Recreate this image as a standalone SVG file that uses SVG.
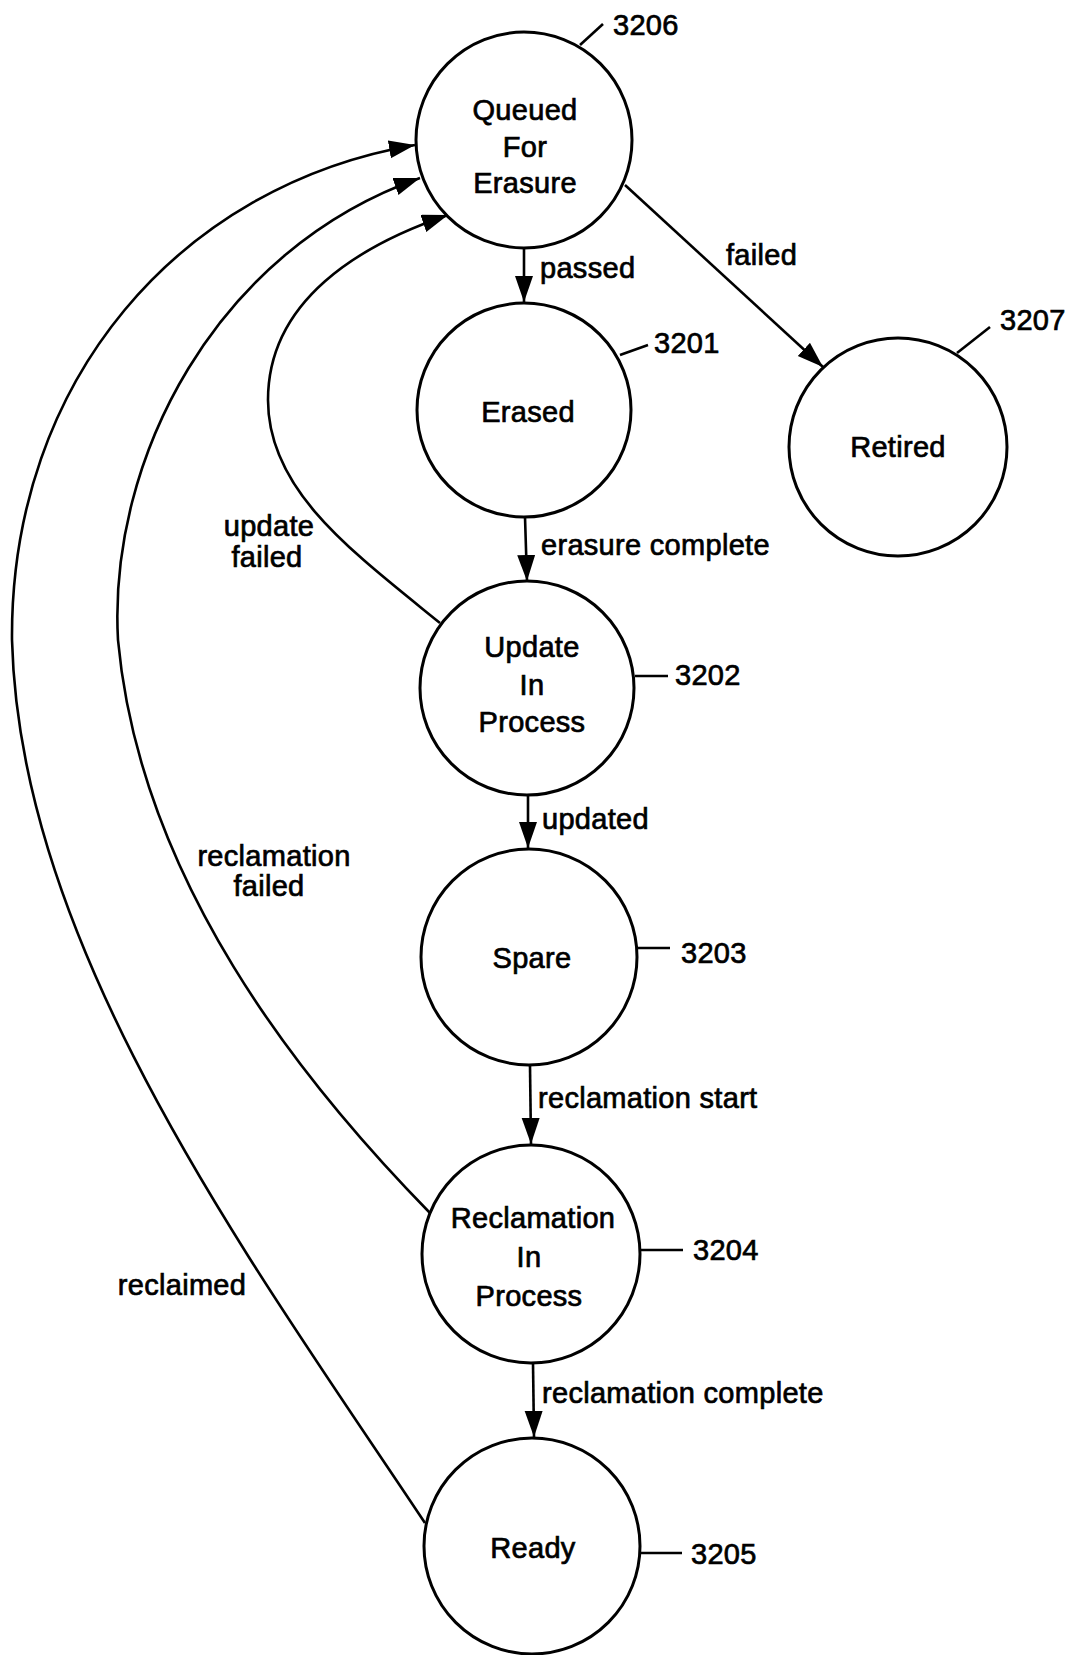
<svg xmlns="http://www.w3.org/2000/svg" width="1070" height="1655" viewBox="0 0 1070 1655">
<style>
.node circle{fill:#fff;stroke:#000;stroke-width:3}
text{font-family:"Liberation Sans",Arial,Helvetica,sans-serif;font-size:29px;fill:#000;stroke:#000;stroke-width:0.7;letter-spacing:0.3px}
.c{text-anchor:middle}
.edge{fill:none;stroke:#000;stroke-width:2.6}
.lead{stroke:#000;stroke-width:2.6}
</style>
<defs>
<marker id="arr" markerUnits="userSpaceOnUse" markerWidth="28" markerHeight="20" refX="26" refY="9" orient="auto">
<path d="M0,0 L26,9 L0,18 z" fill="#000"/>
</marker>
</defs>
<rect width="1070" height="1655" fill="#fff"/>
<g id="connectors">
<path class="edge" d="M524,249 L524,302" marker-end="url(#arr)"/>
<path class="edge" d="M525,517 L527,581" marker-end="url(#arr)"/>
<path class="edge" d="M528,796 L528,848" marker-end="url(#arr)"/>
<path class="edge" d="M530,1066 L531,1144" marker-end="url(#arr)"/>
<path class="edge" d="M533,1363 L534,1437" marker-end="url(#arr)"/>
<path class="edge" d="M625,185 L823,367" marker-end="url(#arr)"/>
<path class="edge" d="M440,623 C350,550 268,490 268,400 C268,300 360,245 448,215" marker-end="url(#arr)"/>
<path class="edge" d="M430,1213 C300,1080 140,880 118,640 C108,460 215,250 420,178" marker-end="url(#arr)"/>
<path class="edge" d="M425,1523 C250,1260 20,950 12,640 C10,380 180,185 415,145" marker-end="url(#arr)"/>
<text x="540" y="278">passed</text>
<text x="726" y="265">failed</text>
<text x="541" y="555">erasure complete</text>
<text x="542" y="829">updated</text>
<text x="538" y="1108">reclamation start</text>
<text x="542" y="1403">reclamation complete</text>
<text class="c" x="269" y="536">update</text>
<text class="c" x="267" y="567">failed</text>
<text class="c" x="274" y="866">reclamation</text>
<text class="c" x="269" y="896">failed</text>
<text class="c" x="182" y="1295">reclaimed</text>
</g>
<g id="node-3206" class="node">
<circle cx="524" cy="140" r="108"/>
<text class="c" x="525" y="120">Queued</text>
<text class="c" x="525" y="157">For</text>
<text class="c" x="525" y="193">Erasure</text>
<line class="lead" x1="580" y1="45" x2="603" y2="24"/>
<text x="613" y="35">3206</text>
</g>
<g id="node-3201" class="node">
<circle cx="524" cy="410" r="107"/>
<text class="c" x="528" y="422">Erased</text>
<line class="lead" x1="620" y1="355" x2="648" y2="345"/>
<text x="654" y="353">3201</text>
</g>
<g id="node-3207" class="node">
<circle cx="898" cy="447" r="109"/>
<text class="c" x="898" y="457">Retired</text>
<line class="lead" x1="957" y1="353" x2="990" y2="327"/>
<text x="1000" y="330">3207</text>
</g>
<g id="node-3202" class="node">
<circle cx="527" cy="688" r="107"/>
<text class="c" x="532" y="657">Update</text>
<text class="c" x="532" y="695">In</text>
<text class="c" x="532" y="732">Process</text>
<line class="lead" x1="635" y1="676" x2="668" y2="676"/>
<text x="675" y="685">3202</text>
</g>
<g id="node-3203" class="node">
<circle cx="529" cy="957" r="108"/>
<text class="c" x="532" y="968">Spare</text>
<line class="lead" x1="637" y1="948" x2="670" y2="948"/>
<text x="681" y="963">3203</text>
</g>
<g id="node-3204" class="node">
<circle cx="531" cy="1254" r="109"/>
<text class="c" x="533" y="1228">Reclamation</text>
<text class="c" x="529" y="1267">In</text>
<text class="c" x="529" y="1306">Process</text>
<line class="lead" x1="639" y1="1250" x2="683" y2="1250"/>
<text x="693" y="1260">3204</text>
</g>
<g id="node-3205" class="node">
<circle cx="532" cy="1546" r="108"/>
<text class="c" x="533" y="1558">Ready</text>
<line class="lead" x1="640" y1="1553" x2="682" y2="1553"/>
<text x="691" y="1564">3205</text>
</g>
</svg>
